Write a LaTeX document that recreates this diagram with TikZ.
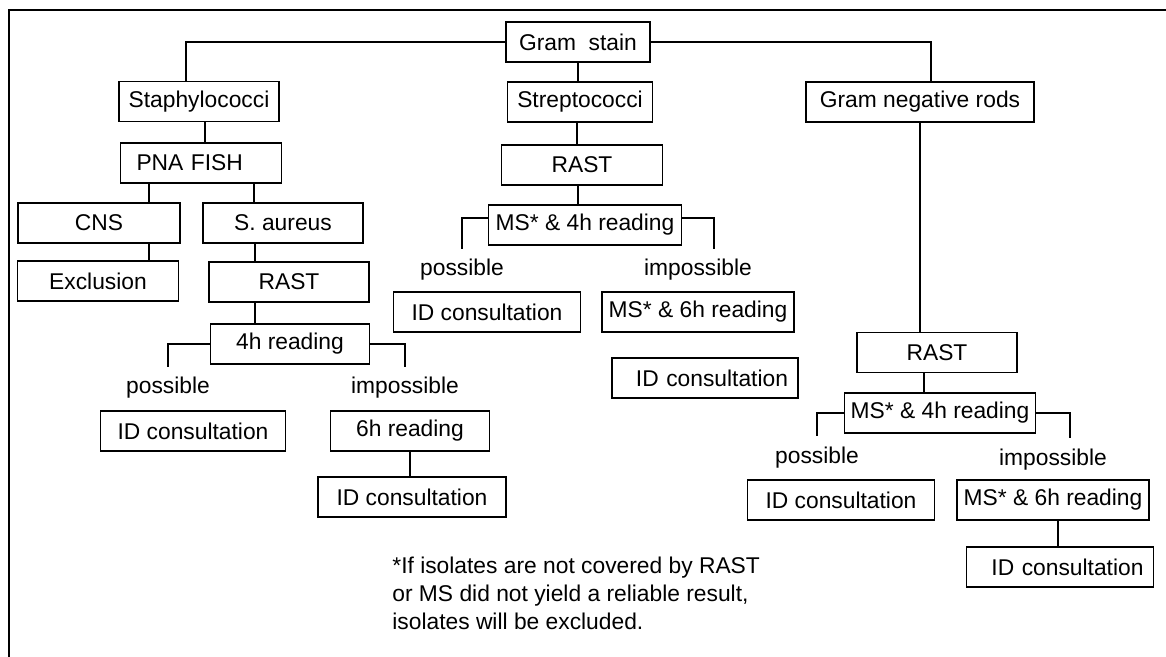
\documentclass[tikz,border=0pt]{standalone}
\usepackage{fontspec}
\setmainfont{Liberation Sans}
\usetikzlibrary{positioning,calc}

\begin{document}
\begin{tikzpicture}[
    x=0.5pt, y=-0.5pt,
    box/.style={draw, line width=0.7pt, minimum height=20pt, inner sep=0pt, font=\fontsize{11.4}{14}\selectfont},
    lbl/.style={inner sep=0pt, font=\fontsize{11.4}{14}\selectfont},
    link/.style={line width=0.7pt}
  ]
  \useasboundingbox (0,0) rectangle (1166,657);
  \draw[link] (9,657) -- (9,10) -- (1166,10);

  \node[box, minimum width=72pt] (gram) at (578,42) {Gram\ \ stain};

  % Staphylococci
  \node[box, minimum width=80pt] (staph) at (199,101.5) {Staphylococci};
  \node[box, text width=64.5pt, inner xsep=8pt, align=left] (pna) at (201,163) {PNA FISH};
  \node[box, minimum width=81pt] (cns) at (99,223) {CNS};
  \node[box, minimum width=80pt] (saur) at (283,223) {S. aureus};
  \node[box, minimum width=80.5pt] (excl) at (98,281) {Exclusion};
  \node[box, minimum width=80pt] (rast1) at (289,282) {RAST};
  \node[box, minimum width=79.5pt] (read4) at (290,344) {4h reading};
  \node[lbl] (pos1) at (168,388) {possible};
  \node[lbl] (imp1) at (405,388) {impossible};
  \node[box, minimum width=92.5pt] (idc1) at (193,431) {ID consultation};
  \node[box, minimum width=79.5pt] (read6) at (410,431) {6h reading};
  \node[box, minimum width=94pt] (idc2) at (412,497) {ID consultation};

  % Streptococci
  \node[box, minimum width=72.5pt] (strep) at (580,102) {Streptococci};
  \node[box, minimum width=80.5pt] (rast2) at (582,165) {RAST};
  \node[box, minimum width=96.5pt] (ms4a) at (585,225) {MS* \& 4h reading};
  \node[lbl] (pos2) at (462,270) {possible};
  \node[lbl] (imp2) at (698,270) {impossible};
  \node[box, minimum width=93.5pt] (idc3) at (487,312) {ID consultation};
  \node[box, minimum width=96pt] (ms6a) at (698,312) {MS* \& 6h reading};
  \node[box, text width=83pt, inner xsep=5pt, align=right] (idc4) at (705,378) {ID consultation};

  % Gram negative rods
  \node[box, minimum width=114pt] (gnr) at (920,102) {Gram negative rods};
  \node[box, minimum width=80pt] (rast3) at (937,352.5) {RAST};
  \node[box, minimum width=95.5pt] (ms4b) at (940,413) {MS* \& 4h reading};
  \node[lbl] (pos3) at (817,458) {possible};
  \node[lbl] (imp3) at (1053,460) {impossible};
  \node[box, minimum width=93.5pt] (idc5) at (841,500) {ID consultation};
  \node[box, minimum width=96pt] (ms6b) at (1053,500) {MS* \& 6h reading};
  \node[box, text width=83.5pt, inner xsep=5pt, align=right] (idc6) at (1060,567) {ID consultation};

  \node[lbl, anchor=north west, align=left] (note) at (392,557) {*If isolates are not covered by RAST\\or MS did not yield a reliable result,\\isolates will be excluded.};

  \draw[link] (gram.west) -| ([xshift=-6.5pt]staph.north);
  \draw[link] (gram.east) -| ([xshift=5.5pt]gnr.north);
  \draw[link] (gram.south) -- (gram.south |- strep.north);

  \draw[link] ([xshift=3pt]staph.south) -- ([xshift=3pt]staph.south |- pna.north);
  \draw[link] ([xshift=-26pt]pna.south) -- ([xshift=-26pt]pna.south |- cns.north);
  \draw[link] ([xshift=26.5pt]pna.south) -- ([xshift=26.5pt]pna.south |- saur.north);
  \draw[link] ([xshift=25pt]cns.south) -- ([xshift=25pt]cns.south |- excl.north);
  \draw[link] ([xshift=-14pt]saur.south) -- ([xshift=-14pt]saur.south |- rast1.north);
  \draw[link] ([xshift=-17pt]rast1.south) -- ([xshift=-17pt]rast1.south |- read4.north);
  \draw[link] (read4.west) -| ([yshift=10.5pt]pos1.center);
  \draw[link] (read4.east) -| ([yshift=10.5pt]imp1.center);
  \draw[link] (read6.south) -- (read6.south |- idc2.north);

  \draw[link] ([xshift=-1.5pt]strep.south) -- ([xshift=-1.5pt]strep.south |- rast2.north);
  \draw[link] ([xshift=-2pt]rast2.south) -- ([xshift=-2pt]rast2.south |- ms4a.north);
  \draw[link] ([yshift=3.5pt]ms4a.west) -| ([yshift=10.5pt]pos2.center);
  \draw[link] ([yshift=3.5pt]ms4a.east) -| ([xshift=8pt,yshift=10.5pt]imp2.center);

  \draw[link] (gnr.south) -- (gnr.south |- rast3.north);
  \draw[link] ([xshift=-6.5pt]rast3.south) -- ([xshift=-6.5pt]rast3.south |- ms4b.north);
  \draw[link] (ms4b.west) -| ([yshift=11pt]pos3.center);
  \draw[link] (ms4b.east) -| ([xshift=8.5pt,yshift=11pt]imp3.center);
  \draw[link] ([xshift=2.5pt]ms6b.south) -- ([xshift=2.5pt]ms6b.south |- idc6.north);
\end{tikzpicture}
\end{document}
